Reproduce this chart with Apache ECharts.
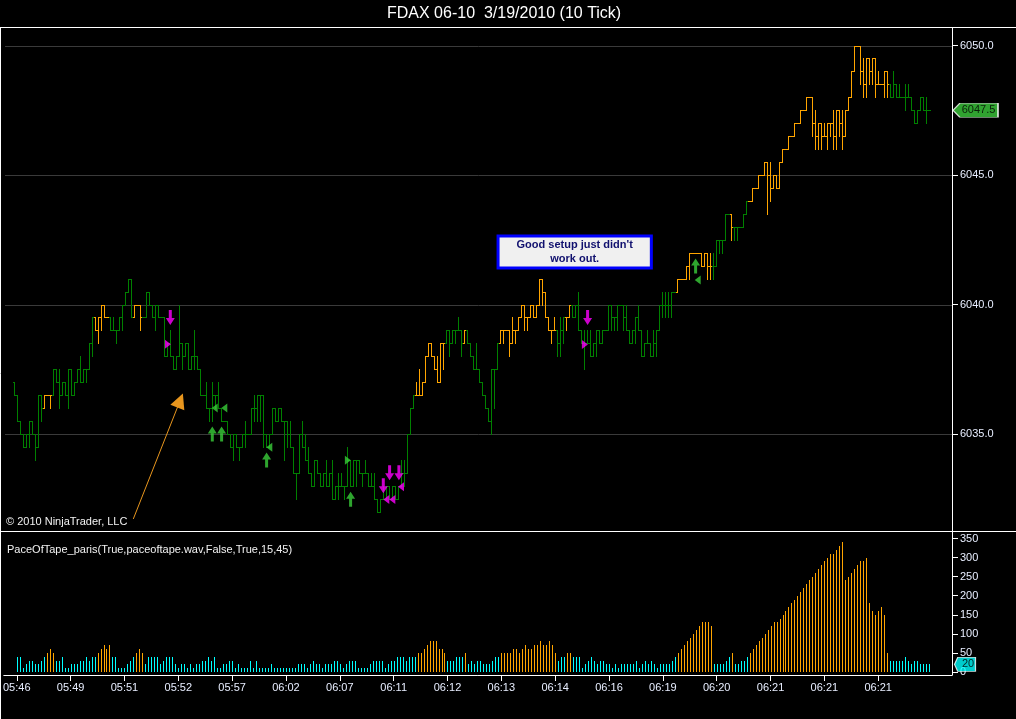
<!DOCTYPE html>
<html><head><meta charset="utf-8">
<script src="https://cdn.jsdelivr.net/npm/echarts@6/dist/echarts.min.js"></script>
<style>html,body{margin:0;padding:0;background:#000;}#c{width:1016px;height:719px;}</style>
</head><body><div id="c"></div>
<script>
// ---- data (10-tick bars, one entry per bar) ----
const highs = [6037,6036,6035.5,6035,6035,6035.5,6035.5,6034.5,6036.5,6036.5,
6036.5,6036.5,6036.5,6037.5,6037.5,6037.5,6037,6037,6037.5,6037.5,
6037,6037.5,6038,6037.5,6037.5,6038.5,6039.5,6039.5,6039.5,6040,
6040,6039.5,6039.5,6039.5,6039,6039.5,6040,6040.5,6041,6041,
6040,6040,6040,6039.5,6040.5,6040.5,6040,6040,6040,6039.5,
6038.5,6038.5,6039,6038,6038,6040,6038.5,6038.5,6038.5,6038,
6039,6038,6037.5,6036.5,6037,6036,6037,6036.5,6037,6036,
6035.5,6035.5,6035,6035,6035,6034.5,6035,6035.5,6035,6036,
6036.5,6036.5,6036.5,6036.5,6035,6035,6036,6036,6036,6036,
6035.5,6035.5,6035.5,6034.5,6033.5,6035,6035.5,6035,6034.5,6033.5,
6034,6034,6033.5,6033.5,6034,6033.5,6034,6033,6033.5,6033.5,
6033,6034.5,6034,6034,6034,6034,6033.5,6034,6033,6033.5,
6033.5,6032.5,6032.5,6033,6033,6033,6033,6033,6033,6034,
6034,6035,6036,6036.5,6037,6037.5,6037,6038,6038.5,6038.5,
6038,6038,6038.5,6038.5,6039,6039,6039,6039,6039.5,6038.5,
6039,6039,6038.5,6038,6038.5,6037.5,6037,6036.5,6036,6037.5,
6037.5,6038.5,6039,6039,6039,6039,6039.5,6039,6039.5,6040,
6040,6039.5,6040,6040,6040,6041,6041,6040.5,6039.5,6039,
6039.5,6039,6039.5,6039.5,6039.5,6040,6040,6040,6040.5,6039,
6039,6039,6039,6038.5,6039,6039,6039,6039,6040,6040,
6039.5,6040,6040,6040,6040,6039,6039,6039.5,6040,6039,
6038.5,6039,6038.5,6039,6039,6040,6040.5,6040.5,6040.5,6040.5,
6040.5,6041,6041,6041,6041.5,6042,6042,6042,6042,6042,
6042,6042,6042,6042,6042.5,6042.5,6042.5,6043.5,6043.5,6043.5,
6043,6043,6043,6043.5,6044,6044,6044.5,6044.5,6045,6045,
6045.5,6045.5,6045.5,6045,6045,6045.5,6046,6046,6046.5,6046.5,
6047,6047,6047.5,6047.5,6048,6048,6048,6047.5,6047,6047,
6047,6047,6047,6047.5,6047.5,6047.5,6047.5,6047.5,6048,6049,
6050,6050,6050,6049.5,6049.5,6049.5,6049.5,6049.5,6049,6048.5,
6049,6049,6048.5,6049,6048.5,6048.5,6048,6048.5,6048.5,6047.5,
6047.5,6047.5,6048,6048,6048,6047.5];

const lows = [6036.5,6035.5,6035,6034.5,6034.5,6034.5,6035,6034,6035,6035.5,
6036,6036.5,6036,6036.5,6037,6036,6036.5,6036.5,6036,6036.5,
6036.5,6037,6037,6037,6037,6037.5,6038,6039,6038.5,6039,
6039.5,6039.5,6039,6039,6038.5,6039,6039,6040,6040.5,6039.5,
6039.5,6040,6039,6039.5,6039.5,6040,6039.5,6039,6039.5,6039.5,
6038,6038,6038,6037.5,6037.5,6038,6037.5,6038,6037.5,6037.5,
6037.5,6037.5,6036.5,6036.5,6036,6035.5,6035.5,6036,6036,6035.5,
6035.5,6035,6034.5,6034,6034.5,6034,6034.5,6034.5,6035,6035,
6035.5,6035.5,6035.5,6034.5,6034.5,6034.5,6035,6035.5,6035.5,6035.5,
6034,6034.5,6034.5,6033.5,6032.5,6034,6034.5,6034,6033.5,6033,
6033,6033.5,6033,6033,6033,6033,6032.5,6032.5,6032.5,6033,
6032.5,6033,6033,6033,6033,6033.5,6033,6033.5,6033,6033,
6032.5,6032,6032,6032.5,6032.5,6032.5,6032.5,6032.5,6032.5,6033,
6033,6033.5,6035,6036,6036.5,6036.5,6036.5,6037,6038,6038,
6037.5,6037,6037,6037.5,6038.5,6038,6038.5,6038.5,6039,6038,
6038.5,6038.5,6038,6037.5,6037.5,6037,6036.5,6036,6035.5,6035,
6036,6037.5,6038.5,6038.5,6039,6038,6038.5,6038.5,6039,6039.5,
6039,6039,6039.5,6039.5,6039.5,6040,6040,6039.5,6039,6038.5,
6039,6038,6038,6038.5,6039,6039.5,6039.5,6039.5,6039,6038.5,
6037.5,6038.5,6038,6038,6038,6038.5,6038.5,6039,6039.5,6039,
6039,6039,6040,6039,6039,6038.5,6038.5,6038.5,6039,6038,
6038,6038.5,6038,6038,6038,6039,6039.5,6039.5,6039.5,6039.5,
6040.5,6040.5,6041,6041,6041,6041,6042,6042,6042,6041.5,
6041.5,6041,6041,6041,6041.5,6042,6042,6042.5,6043.5,6042.5,
6042.5,6042.5,6043,6043,6043.5,6044,6044,6044.5,6044.5,6045,
6045,6043.5,6044,6044.5,6044.5,6044.5,6045.5,6046,6046,6046.5,
6046.5,6047,6047,6047.5,6047.5,6048,6046.5,6046,6046,6046,
6046.5,6046,6046.5,6046,6046,6046.5,6046,6046.5,6047.5,6048,
6049.5,6050,6048.5,6048,6048,6048.5,6048.5,6048,6048.5,6048.5,
6048,6048,6048,6048,6048,6048,6048,6047.5,6048,6047.5,
6047,6047,6047.5,6047.5,6047,6047.5];

const closes = [6036.5,6035.5,6035,6034.5,6035,6035.5,6035,6034.5,6036.5,6036,
6036.5,6036.5,6036.5,6037.5,6037,6036.5,6037,6036.5,6037.5,6036.5,
6037,6037.5,6037,6037.5,6037.5,6038.5,6039.5,6039,6039.5,6040,
6039.5,6039.5,6039,6039,6039,6039.5,6040,6040.5,6041,6039.5,
6040,6040,6039.5,6039.5,6040.5,6040,6039.5,6040,6039.5,6039.5,
6038,6038.5,6038,6037.5,6038,6038.5,6038,6038.5,6037.5,6038,
6038,6037.5,6036.5,6036.5,6036,6036,6036.5,6036.5,6036,6035.5,
6035.5,6035,6034.5,6035,6034.5,6034.5,6035,6035,6035,6036,
6036,6036.5,6036.5,6035,6034.5,6035,6036,6035.5,6036,6035.5,
6035.5,6035,6034.5,6033.5,6033.5,6035,6034.5,6034,6033.5,6033,
6034,6033.5,6033,6033.5,6033,6033.5,6032.5,6033,6033,6033,
6033,6034,6033,6034,6034,6033.5,6033.5,6033.5,6033,6033,
6032.5,6032,6032.5,6032.5,6033,6032.5,6033,6032.5,6033,6033.5,
6033.5,6035,6036,6036.5,6036.5,6036.5,6037,6038,6038.5,6038,
6037.5,6037,6038.5,6038.5,6039,6038.5,6039,6039,6039,6038.5,
6039,6038.5,6038,6037.5,6037.5,6037,6036.5,6036,6035.5,6037.5,
6037.5,6038.5,6039,6039,6039,6038.5,6039,6039,6039.5,6040,
6039.5,6039.5,6040,6039.5,6040,6041,6040.5,6039.5,6039,6039,
6039,6038.5,6039,6039.5,6039.5,6040,6039.5,6040,6039,6038.5,
6038.5,6038.5,6038,6038.5,6039,6038.5,6039,6039,6040,6039.5,
6039.5,6040,6040,6039.5,6039,6038.5,6039,6039.5,6039,6038,
6038.5,6038.5,6038,6038.5,6039,6040,6040,6040,6040,6040.5,
6040.5,6041,6041,6041,6041.5,6042,6042,6042,6042,6041.5,
6042,6041.5,6041.5,6041.5,6042.5,6042.5,6042.5,6043.5,6043.5,6043,
6043,6043,6043,6043.5,6044,6044,6044.5,6044.5,6045,6045,
6045.5,6045,6044.5,6045,6044.5,6045.5,6046,6046,6046.5,6046.5,
6047,6047,6047.5,6047.5,6048,6048,6047,6046.5,6047,6046.5,
6046.5,6047,6047,6046.5,6047.5,6047,6046.5,6047.5,6048,6049,
6050,6050,6049,6048.5,6049.5,6049,6049.5,6048.5,6048.5,6048.5,
6049,6048.5,6048,6048.5,6048,6048,6048,6048,6048,6047.5,
6047,6047.5,6048,6047.5,6047.5,6047.5];

// PaceOfTape indicator value per bar
const paceValues = [40,40,10,20,30,30,20,20,30,40,
50,60,50,30,30,40,10,10,20,20,
20,30,30,40,30,40,40,50,60,70,
60,70,40,40,10,10,10,20,30,40,
50,60,50,20,40,40,40,40,20,30,
40,40,40,20,10,20,20,10,20,10,
20,20,30,30,40,30,40,10,10,20,
20,30,30,10,20,10,10,10,30,10,
30,10,10,10,10,20,10,10,10,10,
10,10,10,10,20,20,20,10,20,30,
20,20,10,20,20,20,30,30,20,10,
20,30,30,30,10,10,10,10,20,30,
30,30,30,10,20,30,30,40,40,40,
30,40,40,40,50,50,60,70,80,80,
80,60,60,50,30,30,30,40,40,40,
50,20,30,20,30,30,20,20,20,30,
40,40,50,50,50,50,60,60,50,60,
70,60,60,70,70,80,70,70,80,70,
50,30,40,40,50,50,40,40,40,10,
20,30,40,30,20,30,30,20,20,10,
20,10,20,20,20,20,20,30,10,20,
30,20,30,20,10,20,20,20,20,30,
40,50,60,70,80,90,100,110,120,130,
130,130,120,20,20,20,20,30,40,50,
20,20,30,30,40,50,60,70,80,90,
100,110,120,130,130,140,150,160,170,180,
190,200,210,220,230,240,250,260,270,280,
290,300,310,310,320,330,340,240,250,260,
270,280,290,290,300,180,160,150,160,170,
150,50,30,30,30,30,30,40,30,20,
30,30,20,20,20,20];

const paceThreshold = 45;           // from PaceOfTape_paris(...,15,45)
const tickBars = [0,18,36,54,72,90,108,126,144,162,180,198,216,234,252,270,288];
const timeLabels = ["05:46","05:49","05:51","05:52","05:57","06:02","06:07","06:11","06:12","06:13","06:14","06:16","06:19","06:20","06:21","06:21","06:21"];
const priceTicks = [6035,6040,6045,6050];
const paceTicks = [0,50,100,150,200,250,300,350];

// signal markers [bar, price]
const magentaDown = [[52.1,6039.5],[191.2,6039.5],[123.1,6033.0],[125.2,6033.5],[128.3,6033.5]];
const magentaRight = [[51.3,6038.47],[190.3,6038.46]];
const magentaLeft = [[129.0,6032.96],[124.1,6032.47],[126.1,6032.47]];
const greenUp = [[66.1,6035.0],[69.2,6035.0],[84.2,6034.0],[112.2,6032.48],[227.2,6041.49]];
const greenLeft = [[66.9,6036.0],[70.1,6036.0],[85.1,6034.49],[227.9,6040.95]];
const greenRight = [[111.3,6033.99]];

// drawn annotations [bar, price]
const noteArrowFrom = [39.77, 6031.72];
const noteArrowTo = [55.37, 6036.29];
const noteBoxAt = [186.9, 6042.03];
const noteText = "Good setup just didn't\nwork out.";

// ---- chart ----
const FONT = '"Liberation Sans", Arial, sans-serif';
const ORANGE = '#ffa500', GREEN = '#008000', CYAN = '#00ffff';
const X_MIN = -13/3, X_MAX = 938/3;
const lastIdx = closes.length - 1;

const priceRows = closes.map((c, i) => [i, i === 0 ? highs[0] : closes[i-1], highs[i], lows[i], c, paceValues[i]]);
const paceRows = paceValues.map((v, i) => [i, v]);

function priceBar(params, api) {
  const i = api.value(0), o = api.value(1), h = api.value(2), l = api.value(3), c = api.value(4);
  const col = api.value(5) > paceThreshold ? ORANGE : GREEN;
  const pH = api.coord([i, Math.max(h, o)]), pL = api.coord([i, Math.min(l, o)]);
  const x = Math.round(pH[0]);
  const yH = Math.round(pH[1]), yL = Math.round(pL[1]);
  const yO = Math.round(api.coord([i, o])[1]), yC = Math.round(api.coord([i, c])[1]);
  const st = {stroke: col, lineWidth: 1};
  return {type: 'group', children: [
    {type: 'line', shape: {x1: x + 0.5, y1: yH, x2: x + 0.5, y2: yL + 1}, style: st},
    {type: 'line', shape: {x1: x - 1, y1: yO + 0.5, x2: x + 1, y2: yO + 0.5}, style: st},
    {type: 'line', shape: {x1: x + 1, y1: yC + 0.5, x2: x + 2, y2: yC + 0.5}, style: st}
  ]};
}
function paceBar(params, api) {
  const i = api.value(0), v = api.value(1);
  const p = api.coord([i, v]), p0 = api.coord([i, 0]);
  const x = Math.round(p[0]), y = Math.round(p[1]), y0 = Math.round(p0[1]);
  return {type: 'rect', shape: {x: x, y: y, width: 1, height: y0 - y},
          style: {fill: v > paceThreshold ? ORANGE : CYAN}};
}
function gridLine(params, api) {
  const y = Math.round(api.coord([0, api.value(0)])[1]) + 0.5;
  const cs = params.coordSys;
  return {type: 'line', shape: {x1: cs.x + 4, y1: y, x2: cs.x + cs.width, y2: y},
          style: {stroke: '#3a3a3a', lineWidth: 1}};
}
function markerSeries(data, path, size, color) {
  return {type: 'scatter', xAxisIndex: 0, yAxisIndex: 0, data: data, symbol: path,
          symbolSize: size, itemStyle: {color: color}, z: 6, silent: true};
}
const DOWN = 'path://M3,0L6,0L6,8L9,8L4.5,15L0,8L3,8Z';
const UP = 'path://M4.5,0L9,7L6,7L6,15L3,15L3,7L0,7Z';
const RIGHT = 'path://M0,0L6,4.5L0,9Z';
const LEFT = 'path://M6,0L0,4.5L6,9Z';
const TAG = 'path://M0,7L7,0L46,0L46,14L7,14Z';
const LBL = '#e8eeff';

const chart = echarts.init(document.getElementById('c'), null, {renderer: 'canvas'});
chart.setOption({
  backgroundColor: '#000',
  animation: false,
  grid: [
    {left: 1, right: 64, top: 28, height: 503},
    {left: 1, right: 64, top: 532, height: 143}
  ],
  xAxis: [
    {type: 'value', gridIndex: 0, min: X_MIN, max: X_MAX, show: false},
    {type: 'value', gridIndex: 1, min: X_MIN, max: X_MAX, position: 'bottom',
     axisLine: {show: true, onZero: false, lineStyle: {color: '#fff'}},
     axisTick: {show: true, customValues: tickBars, length: 6, lineStyle: {color: '#fff'}},
     axisLabel: {customValues: tickBars, color: LBL, fontSize: 11, fontFamily: FONT, margin: 7,
                 formatter: v => timeLabels[tickBars.indexOf(Math.round(v))] || ''},
     splitLine: {show: false}}
  ],
  yAxis: [
    {type: 'value', gridIndex: 0, position: 'right', min: 6031.255, max: 6050.676,
     axisLine: {show: true, onZero: false, lineStyle: {color: '#fff'}},
     axisTick: {show: true, customValues: priceTicks, length: 6, lineStyle: {color: '#fff'}},
     axisLabel: {customValues: priceTicks, color: LBL, fontSize: 11, fontFamily: FONT, margin: 8,
                 formatter: v => v.toFixed(1)},
     splitLine: {show: false}},
    {type: 'value', gridIndex: 1, position: 'right', min: -7.87, max: 367.1,
     axisLine: {show: true, onZero: false, lineStyle: {color: '#fff'}},
     axisTick: {show: true, customValues: paceTicks, length: 6, lineStyle: {color: '#fff'}},
     axisLabel: {customValues: paceTicks, color: LBL, fontSize: 11, fontFamily: FONT, margin: 8},
     splitLine: {show: false}}
  ],
  graphic: [
    {type: 'line', shape: {x1: 0, y1: 27.5, x2: 1016, y2: 27.5}, style: {stroke: '#fff', lineWidth: 1}},
    {type: 'line', shape: {x1: 0, y1: 531.5, x2: 1016, y2: 531.5}, style: {stroke: '#fff', lineWidth: 1}},
    {type: 'line', shape: {x1: 0.5, y1: 27.5, x2: 0.5, y2: 719}, style: {stroke: '#fff', lineWidth: 1}},
    {type: 'text', style: {text: 'FDAX 06-10  3/19/2010 (10 Tick)', x: 387, y: 13.5, fill: '#fff',
      fontSize: 16, fontFamily: FONT, verticalAlign: 'middle'}},
    {type: 'text', style: {text: 'PaceOfTape_paris(True,paceoftape.wav,False,True,15,45)', x: 7, y: 549.5,
      fill: '#f2f2f2', fontSize: 11, fontFamily: FONT, verticalAlign: 'middle'}},
    {type: 'text', style: {text: '\u00a9 2010 NinjaTrader, LLC', x: 6, y: 522, fill: '#f2f2f2',
      fontSize: 11, fontFamily: FONT, verticalAlign: 'middle'}}
  ],
  series: [
    {type: 'custom', name: 'grid', xAxisIndex: 0, yAxisIndex: 0, data: priceTicks.map(v => [v]),
     renderItem: gridLine, z: 1, silent: true, encode: {y: 0}},
    {type: 'custom', name: 'price', xAxisIndex: 0, yAxisIndex: 0, data: priceRows,
     renderItem: priceBar, z: 3, silent: true, encode: {x: 0, y: [1, 2, 3, 4]}},
    {type: 'custom', name: 'pace', xAxisIndex: 1, yAxisIndex: 1, data: paceRows,
     renderItem: paceBar, z: 3, silent: true, encode: {x: 0, y: 1}},
    markerSeries(magentaDown, DOWN, [9, 15], '#ff00ff'),
    markerSeries(magentaRight, RIGHT, [6, 9], '#ff00ff'),
    markerSeries(magentaLeft, LEFT, [6, 9], '#ff00ff'),
    markerSeries(greenUp, UP, [9, 15], '#3acd3a'),
    markerSeries(greenLeft, LEFT, [6, 9], '#3acd3a'),
    markerSeries(greenRight, RIGHT, [6, 9], '#3acd3a'),
    {type: 'scatter', xAxisIndex: 0, yAxisIndex: 0, data: [], silent: true, z: 7,
     markLine: {silent: true, symbol: ['none', 'triangle'], symbolSize: 15,
       lineStyle: {color: '#e8961e', width: 1, type: 'solid'}, label: {show: false},
       data: [[{coord: noteArrowFrom}, {coord: noteArrowTo}]]},
     markPoint: {silent: true, symbol: 'circle', symbolSize: 0,
       label: {show: true, position: 'inside', formatter: noteText, color: '#10106e',
               fontWeight: 'bold', fontSize: 11, fontFamily: FONT, lineHeight: 14, align: 'center',
               backgroundColor: '#f0f0f0', borderColor: '#0000ff', borderWidth: 3,
               padding: [1, 17, 0, 17]},
       data: [{coord: noteBoxAt}]}},
    {type: 'scatter', xAxisIndex: 0, yAxisIndex: 0, clip: false, silent: true, z: 8,
     data: [[X_MAX, closes[lastIdx]]], symbol: TAG, symbolSize: [45, 14], symbolOffset: [23.5, 0],
     itemStyle: {color: '#3ccc3c', borderColor: '#fff', borderWidth: 1},
     label: {show: true, position: 'inside', offset: [3, 0], color: '#000', fontSize: 11, fontFamily: FONT,
             formatter: p => p.value[1].toFixed(1)}},
    {type: 'scatter', xAxisIndex: 1, yAxisIndex: 1, clip: false, silent: true, z: 8,
     data: [[X_MAX, paceValues[lastIdx]]], symbol: TAG, symbolSize: [21, 14], symbolOffset: [13, 0],
     itemStyle: {color: CYAN, borderColor: '#fff', borderWidth: 1},
     label: {show: true, position: 'inside', offset: [3, 0], color: '#000', fontSize: 11, fontFamily: FONT,
             formatter: p => String(p.value[1])}}
  ]
});
</script>
</body></html>
